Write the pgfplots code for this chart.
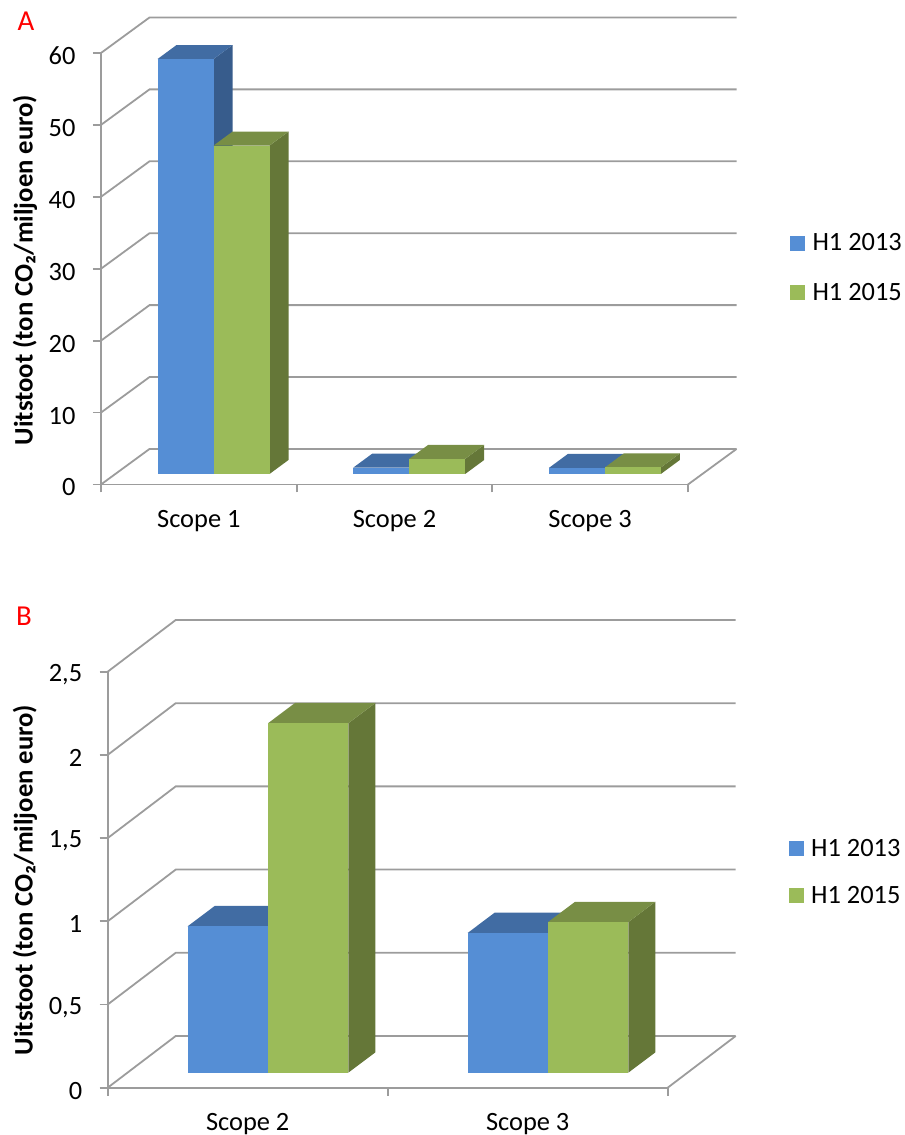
\documentclass[border=0pt]{standalone}
\usepackage{pgfplots}
\pgfplotsset{compat=1.18}
\usepackage{fontspec}
\setmainfont{Carlito}

\definecolor{blueF}{HTML}{558ED5}
\definecolor{blueT}{HTML}{416CA3}
\definecolor{blueS}{HTML}{375C8C}
\definecolor{greenF}{HTML}{9BBB59}
\definecolor{greenT}{HTML}{788E45}
\definecolor{greenS}{HTML}{657738}
\definecolor{gridc}{HTML}{9C9C9C}

% back wall line for one y value: diagonal, then along the wall
\newcommand\wallline[1]{%
  \pgfmathsetmacro\xa{\wdx}
  \pgfmathsetmacro\xb{\nslots+\wdx}
  \pgfmathsetmacro\yb{#1+\wdy}
  \edef\temp{\noexpand\addplot[gridc,line width=1.8bp,forget plot]
    coordinates {(0,#1) (\xa,\yb) (\xb,\yb)};}
  \temp
}

% one fake 3D column: #1 slot, #2 left offset, #3 value, #4 colour stem (blue/green)
\newcommand\column[4]{%
  \pgfmathsetmacro\xa{#1+#2}
  \pgfmathsetmacro\xb{#1+#2+\bw}
  \pgfmathsetmacro\xc{#1+#2+\bw+\bdx}
  \pgfmathsetmacro\xd{#1+#2+\bdx}
  \pgfmathsetmacro\ya{\base}
  \pgfmathsetmacro\yb{\base+#3}
  \pgfmathsetmacro\yc{\base+#3+\bdy}
  \pgfmathsetmacro\ye{\base+\bdy}
  \edef\temp{\noexpand\addplot[fill=#4S,draw=none,forget plot]
    coordinates {(\xb,\ya) (\xc,\ye) (\xc,\yc) (\xb,\yb)};
    \noexpand\addplot[fill=#4T,draw=none,forget plot]
    coordinates {(\xa,\yb) (\xd,\yc) (\xc,\yc) (\xb,\yb)};
    \noexpand\addplot[fill=#4F,draw=none,forget plot]
    coordinates {(\xa,\ya) (\xb,\ya) (\xb,\yb) (\xa,\yb)};}
  \temp
}

\pgfplotsset{
  fakebar/.style={
    scale only axis,
    clip=false,
    axis x line*=bottom,
    axis y line*=left,
    axis line style={gridc,line width=1.8bp,-},
    tick style={gridc,line width=1.8bp},
    tick align=outside,
    major tick length=8bp,
    minor tick length=8bp,
    major x tick style={draw=none},
    tick label style={font=\fontsize{26.5}{31}\selectfont,text=black},
    xticklabel style={yshift=-14bp},
    yticklabel style={xshift=-14bp,yshift=-3bp},
    every axis y label/.style={rotate=90,anchor=center},
    label style={font=\bfseries\fontsize{26.8}{32}\selectfont},
    legend style={draw=none,fill=none,font=\fontsize{26.5}{31}\selectfont,
      row sep=27bp,inner sep=0pt},
    legend cell align=left,
    legend image code/.code={\fill[draw=none,##1] (0bp,-7.5bp) rectangle (15bp,7.5bp);
      \path (20bp,0bp);},
  },
}

\begin{document}
\begin{tikzpicture}[x=1bp,y=1bp]
\path[use as bounding box] (0,0) rectangle (905,1135);

% panel A
\begin{axis}[fakebar,
    at={(101bp,650.5bp)},anchor=south west,
    width=587bp,height=431.5bp,
    xmin=0,xmax=3,ymin=0,ymax=60,
    xtick={0.5,1.5,2.5},
    minor xtick={0,1,2,3},
    xticklabels={Scope 1,Scope 2,Scope 3},
    ytick={0,10,20,30,40,50,60},
    yticklabels={0,10,20,30,40,50,60},
    ylabel={Uitstoot (ton CO₂/miljoen euro)},
    ylabel style={at={(axis description cs:-0.1295,0.497)}},
    legend style={at={(axis description cs:1.174,0.502)},anchor=west},
  ]
  \def\nslots{3}\def\wdx{0.2479}\def\wdy{4.937}
  \def\bw{0.2862}\def\bdx{0.0971}\def\bdy{1.947}\def\base{1.46}
  \pgfplotsforeachungrouped \v in {0,10,20,30,40,50,60}{\wallline{\v}}
  \addplot[gridc,line width=1.8bp,forget plot] coordinates {(3,0) (3.2479,4.937)};
  \column{0}{0.289}{57.7}{blue}
  \column{0}{0.575}{45.66}{green}
  \column{1}{0.289}{0.88}{blue}
  \column{1}{0.575}{2.10}{green}
  \column{2}{0.289}{0.84}{blue}
  \column{2}{0.575}{0.905}{green}
  \addlegendimage{fill=blueF}
  \addlegendimage{fill=greenF}
  \legend{H1 2013,H1 2015}
\end{axis}

% panel B
\begin{axis}[fakebar,
    at={(107.7bp,47.3bp)},anchor=south west,
    width=560bp,height=416bp,
    xmin=0,xmax=2,ymin=0,ymax=2.5,
    xtick={0.5,1.5},
    minor xtick={0,1,2},
    xticklabels={Scope 2,Scope 3},
    ytick={0,0.5,1,1.5,2,2.5},
    yticklabels={0,{0,5},1,{1,5},2,{2,5}},
    ylabel={Uitstoot (ton CO₂/miljoen euro)},
    ylabel style={at={(axis description cs:-0.1477,0.499)}},
    legend style={at={(axis description cs:1.216,0.518)},anchor=west,row sep=24bp},
  ]
  \def\nslots{2}\def\wdx{0.2429}\def\wdy{0.3107}
  \def\bw{0.2868}\def\bdx{0.0964}\def\bdy{0.122}\def\base{0.0901}
  \pgfplotsforeachungrouped \v in {0,0.5,1,1.5,2,2.5}{\wallline{\v}}
  \addplot[gridc,line width=1.8bp,forget plot] coordinates {(2,0) (2.2429,0.3107)};
  \column{0}{0.2857}{0.88}{blue}
  \column{0}{0.5725}{2.10}{green}
  \column{1}{0.2857}{0.84}{blue}
  \column{1}{0.5725}{0.905}{green}
  \addlegendimage{fill=blueF}
  \addlegendimage{fill=greenF}
  \legend{H1 2013,H1 2015}
\end{axis}

\node[text=red,font=\fontsize{29}{34}\selectfont,inner sep=0pt] at (26,1114) {A};
\node[text=red,font=\fontsize{29}{34}\selectfont,inner sep=0pt] at (24,519) {B};
\end{tikzpicture}
\end{document}
